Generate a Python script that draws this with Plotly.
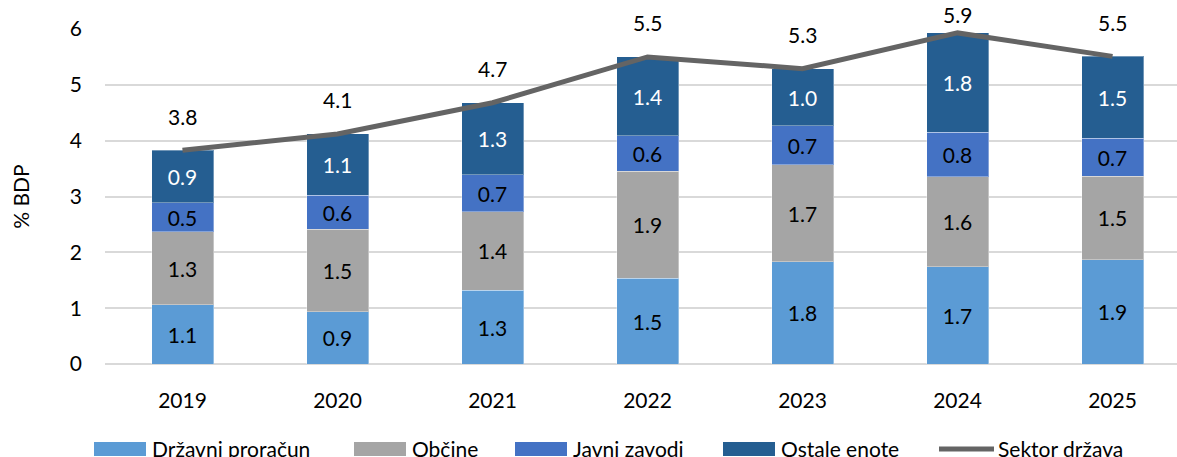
import plotly.graph_objects as go

# data (% BDP)
years = ['2019', '2020', '2021', '2022', '2023', '2024', '2025']
drzavni_proracun = [1.06, 0.94, 1.32, 1.54, 1.83, 1.74, 1.87]
obcine = [1.31, 1.47, 1.41, 1.91, 1.74, 1.61, 1.49]
javni_zavodi = [0.52, 0.61, 0.66, 0.64, 0.70, 0.80, 0.68]
ostale_enote = [0.94, 1.10, 1.29, 1.41, 1.02, 1.78, 1.47]
sektor_drzava = [3.83, 4.12, 4.68, 5.50, 5.29, 5.93, 5.51]

FONT = 'Lato, Carlito, Calibri, sans-serif'
FS = 21
series = [
    ('Državni proračun', drzavni_proracun, '#5B9BD5', 'black'),
    ('Občine', obcine, '#A5A5A5', 'black'),
    ('Javni zavodi', javni_zavodi, '#4472C4', 'black'),
    ('Ostale enote', ostale_enote, '#255E91', 'white'),
]

fig = go.Figure()
for name, vals, col, tcol in series:
    fig.add_trace(go.Bar(
        x=years, y=vals, name=name, marker_color=col,
        marker_line=dict(color='rgba(255,255,255,0.35)', width=1),
        texttemplate='%{y:.1f}', textposition='inside', insidetextanchor='middle',
        textangle=0, constraintext='none',
        textfont=dict(color=tcol, size=FS, family=FONT),
        showlegend=False,
    ))

fig.add_trace(go.Scatter(
    x=years, y=sektor_drzava, mode='lines', name='Sektor država',
    line=dict(color='#646464', width=5), showlegend=False,
))

# value labels above the line points, pushed down when they would leave the chart
px_per_unit = 56
for i, v in enumerate(sektor_drzava):
    shift = min(34, (6 - v) * px_per_unit + 14)
    fig.add_annotation(x=i, y=v, xref='x', yref='y', text='%.1f' % v, showarrow=False,
                       yshift=shift, font=dict(size=FS, color='black', family=FONT))

# legend drawn by hand so the swatches match the long Excel-style keys
def px_x(px):
    return (px - 105) / 1072.0

def px_y(py):
    return (364 - py) / 335.0

legend_items = [
    ('Državni proračun', '#5B9BD5', 94, 'box'),
    ('Občine', '#A5A5A5', 354, 'box'),
    ('Javni zavodi', '#4472C4', 515, 'box'),
    ('Ostale enote', '#255E91', 723, 'box'),
    ('Sektor država', '#646464', 939, 'line'),
]
for label, col, x0, kind in legend_items:
    if kind == 'box':
        fig.add_shape(type='rect', xref='paper', yref='paper',
                      x0=px_x(x0), x1=px_x(x0 + 52), y0=px_y(456), y1=px_y(442),
                      fillcolor=col, line_width=0)
        tx = x0 + 56
    else:
        fig.add_shape(type='line', xref='paper', yref='paper',
                      x0=px_x(x0), x1=px_x(x0 + 55), y0=px_y(449), y1=px_y(449),
                      line=dict(color=col, width=5))
        tx = x0 + 57
    fig.add_annotation(xref='paper', yref='paper', x=px_x(tx), y=px_y(448),
                       xanchor='left', yanchor='middle', text=label, showarrow=False,
                       font=dict(size=FS, color='black', family=FONT))

fig.update_layout(
    barmode='stack', bargap=0.6,
    width=1177, height=457,
    margin=dict(l=105, r=0, t=29, b=93),
    plot_bgcolor='white', paper_bgcolor='white',
    font=dict(family=FONT, size=FS, color='black'),
)
fig.update_xaxes(type='category', range=[-0.5, 6.416], showline=False, ticks='',
                 showgrid=False, ticklabelstandoff=22)
fig.update_yaxes(range=[0, 6], dtick=1, showgrid=True, gridcolor='#D9D9D9', gridwidth=1.5,
                 zeroline=True, zerolinecolor='#D9D9D9', zerolinewidth=1.5,
                 ticks='', ticklabelstandoff=22,
                 title=dict(text='% BDP', standoff=34, font=dict(size=FS)))

fig.write_html("out.html", config={'displayModeBar': False},
               post_script="document.body.style.margin='0';")
